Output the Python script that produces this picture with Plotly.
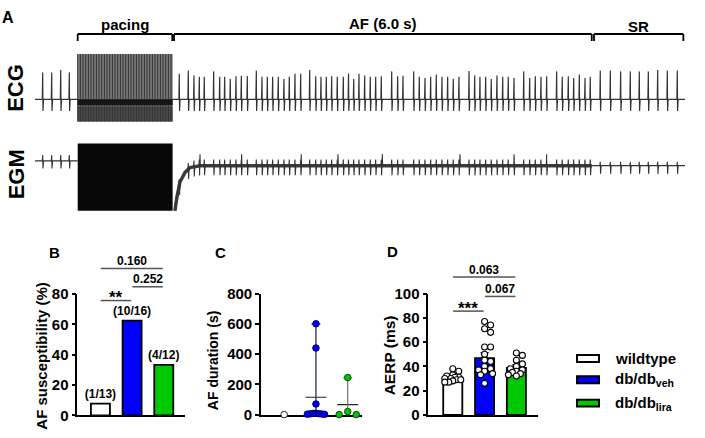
import numpy as np
import plotly.graph_objects as go

W, H = 705, 438
FONT = "Liberation Sans, Arial, Helvetica, sans-serif"

# ---------------- Panel A : protocol (s) ----------------
pacing_start, pacing_end = 0.616, 1.985
af_start, af_end = 2.005, 8.03
sr_end = 9.351
record_end = 9.375
pacing_rate_hz = 26

# ECG (mV): R-peak times and amplitudes
ecg_pre_t = [0.111, 0.241, 0.371, 0.495]
ecg_pre_r = [0.93, 0.93, 1.02, 0.93]
ecg_af_t = [2.081, 2.211, 2.293, 2.370, 2.442, 2.577, 2.664, 2.736, 2.817, 2.899,
            2.976, 3.062, 3.192, 3.274, 3.351, 3.428, 3.509, 3.591, 3.668, 3.750,
            3.832, 3.962, 4.049, 4.125, 4.202, 4.279, 4.360, 4.447, 4.522, 4.597,
            4.673, 4.755, 4.836, 4.914, 4.995, 5.145, 5.231, 5.308, 5.462, 5.543,
            5.625, 5.707, 5.788, 5.870, 5.952, 6.033, 6.115, 6.260, 6.342, 6.418,
            6.500, 6.581, 6.663, 6.746, 6.826, 6.909, 7.049, 7.135, 7.216, 7.298,
            7.380, 7.524, 7.605, 7.692, 7.770, 7.851, 7.933, 8.009]
ecg_af_r = [0.89, 1.00, 0.83, 0.78, 0.78, 0.97, 0.78, 0.78, 0.71, 0.80,
            0.82, 0.81, 1.00, 0.78, 0.78, 0.78, 0.78, 0.71, 0.78, 0.89,
            0.89, 1.02, 0.80, 0.78, 0.78, 0.80, 0.78, 0.78, 0.90, 0.71,
            0.89, 0.83, 0.78, 0.78, 0.80, 0.97, 0.80, 0.82, 0.97, 0.78,
            0.74, 0.78, 0.86, 0.78, 0.78, 0.71, 0.78, 0.98, 0.83, 0.78,
            0.78, 0.71, 0.83, 0.78, 0.78, 0.74, 0.97, 0.74, 0.80, 0.78,
            0.80, 0.97, 0.78, 0.80, 0.74, 0.86, 0.74, 0.78]
ecg_sr_t = [8.153, 8.298, 8.447, 8.586, 8.716, 8.846, 8.981, 9.120, 9.264]
ecg_sr_r = [1.00, 1.00, 0.97, 0.97, 0.97, 0.97, 1.02, 1.00, 1.00]
ecg_s_depth = -0.40
ecg_pacing_top, ecg_pacing_bottom = 1.57, -0.77

# EGM (mV)
egm_pre_baseline = 0.5
egm_pacing_top, egm_pacing_bottom = 2.3, -4.7
egm_recovery_t = [2.019, 2.044, 2.091, 2.164, 2.236, 2.380]
egm_recovery_v = [-4.7, -3.4, -1.7, -0.7, -0.2, 0.0]
egm_v_up, egm_v_down = 0.65, -1.0
egm_sr_up, egm_sr_down = 0.40, -0.85
egm_pre_up, egm_pre_down = 0.60, -0.80
egm_atrial_t = [2.38, 2.98, 3.84, 4.37, 5.01, 6.13, 6.91, 7.38]
egm_atrial_v = 1.2

# ---------------- Panels B-D ----------------
groups = ["wildtype", "db/db<sub>veh</sub>", "db/db<sub>lira</sub>"]
group_colors = ["#FFFFFF", "#0000FF", "#00C800"]
group_edge = ["#222222", "#00005A", "#004A00"]

af_n = [1, 10, 4]
af_total = [13, 16, 12]
b_compare = [(0, 1, "**", 75.8), (1, 2, "0.252", 84.9), (0, 2, "0.160", 97.0)]

af_dur = [[0],
          [600, 440, 70, 9, 8, 6, 5, 4, 3, 2],
          [245, 20, 0, 0]]

aerp_mean = [30.9, 46.7, 38.8]
aerp_sem = [1.2, 4.6, 2.6]
aerp = [[38, 36, 33, 32, 31, 31, 30, 30, 29, 29, 28, 27, 27],
        [77, 74, 71, 68, 56, 56, 50, 45, 44, 40, 38, 37, 36, 34, 33, 26],
        [51, 49, 45, 42, 40, 38, 37, 36, 35, 34, 33, 32]]
d_compare = [(0, 1, "***", 85.5), (1, 2, "0.067", 97.6), (0, 2, "0.063", 113.5)]

# ---------------- geometry (pixels) ----------------
def PX(x):
    return x / W


def PY(y):
    return 1 - y / H


A_X = (35, 685)
ECG_Y = (124, 43)      # bottom, top px
ECG_R = (-1.0, 1.7)
EGM_Y = (213, 138)
EGM_R = (-5.0, 2.5)

PANELS = {
    "B": dict(x=(77.3, 185.0), xr=(-0.73, 2.67), y=(422.7, 296.7), yr=(0, 80)),
    "C": dict(x=(261.0, 362.0), xr=(-0.73, 2.45), y=(422.0, 296.0), yr=(0, 800)),
    "D": dict(x=(428.3, 538.0), xr=(-0.77, 2.68), y=(422.3, 296.0), yr=(0, 100)),
}


def vx(p, v):
    P = PANELS[p]
    return P["x"][0] + (v - P["xr"][0]) / (P["xr"][1] - P["xr"][0]) * (P["x"][1] - P["x"][0])


def vy(p, v):
    P = PANELS[p]
    return P["y"][0] - (v - P["yr"][0]) / (P["yr"][1] - P["yr"][0]) * (P["y"][0] - P["y"][1])


def ax_x(t):
    return A_X[0] + t / record_end * (A_X[1] - A_X[0])


fig = go.Figure()

# ---------------- ECG trace ----------------
ex, ey = [0.0], [0.0]
for t, r in zip(ecg_pre_t + ecg_af_t + ecg_sr_t, ecg_pre_r + ecg_af_r + ecg_sr_r):
    ex += [t - 0.006, t, t + 0.004, t + 0.012]
    ey += [0.0, r, ecg_s_depth, 0.0]
ex.append(record_end)
ey.append(0.0)
fig.add_trace(go.Scatter(x=ex, y=ey, mode="lines", line=dict(color="#333333", width=1.2),
                         xaxis="x", yaxis="y", hoverinfo="skip"))

# ECG pacing block
ps, pe = pacing_start, pacing_end
fig.add_trace(go.Scatter(x=[ps, pe, pe, ps, ps],
                         y=[ecg_pacing_top, ecg_pacing_top, ecg_pacing_bottom, ecg_pacing_bottom, ecg_pacing_top],
                         mode="lines", fill="toself", fillcolor="#7a7a7a", line=dict(width=0),
                         xaxis="x", yaxis="y", hoverinfo="skip"))
fig.add_trace(go.Scatter(x=[ps, pe, pe, ps, ps],
                         y=[-0.25, -0.25, ecg_pacing_bottom, ecg_pacing_bottom, -0.25],
                         mode="lines", fill="toself", fillcolor="#4a4a4a", line=dict(width=0),
                         xaxis="x", yaxis="y", hoverinfo="skip"))
stim = np.arange(ps, pe, 1.0 / pacing_rate_hz)
sx, sy = [], []
for t in stim:
    sx += [t, t, None]
    sy += [ecg_pacing_top, ecg_pacing_bottom, None]
fig.add_trace(go.Scatter(x=sx, y=sy, mode="lines", line=dict(color="#333333", width=1),
                         xaxis="x", yaxis="y", hoverinfo="skip"))
fig.add_trace(go.Scatter(x=[ps, pe], y=[-0.1, -0.1], mode="lines", line=dict(color="#151515", width=6),
                         xaxis="x", yaxis="y", hoverinfo="skip"))

# ---------------- EGM trace ----------------
def egm_base(t):
    return float(np.interp(t, egm_recovery_t, egm_recovery_v))


gx, gy = [0.0], [egm_pre_baseline]
for t in ecg_pre_t:
    b = egm_pre_baseline
    gx += [t - 0.006, t, t + 0.004, t + 0.012]
    gy += [b, b + egm_pre_up, b + egm_pre_down, b]
gx += [pacing_start, None]
gy += [egm_pre_baseline, None]

events = [(t, "r") for t in egm_recovery_t] + [(t, "v") for t in ecg_af_t] + \
         [(t, "a") for t in egm_atrial_t] + [(t, "s") for t in ecg_sr_t]
events.sort()
for t, kind in events:
    b = egm_base(t)
    if kind == "r":
        gx.append(t); gy.append(b)
    elif kind == "v":
        gx += [t - 0.006, t, t + 0.004, t + 0.012]
        gy += [b, b + egm_v_up, b + egm_v_down, b]
    elif kind == "a":
        gx += [t - 0.004, t, t + 0.004]
        gy += [b, b + egm_atrial_v, b]
    else:
        gx += [t - 0.006, t, t + 0.004, t + 0.012]
        gy += [b, b + egm_sr_up, b + egm_sr_down, b]
gx.append(record_end)
gy.append(0.0)

# fibrillatory band
fig.add_trace(go.Scatter(x=egm_recovery_t + [af_end], y=egm_recovery_v + [0.0], mode="lines",
                         line=dict(color="#404040", width=3.5), xaxis="x", yaxis="y2", hoverinfo="skip"))
fig.add_trace(go.Scatter(x=gx, y=gy, mode="lines", line=dict(color="#333333", width=1.1),
                         xaxis="x", yaxis="y2", hoverinfo="skip"))
fig.add_trace(go.Scatter(x=[ps, pe, pe, ps, ps],
                         y=[egm_pacing_top, egm_pacing_top, egm_pacing_bottom, egm_pacing_bottom, egm_pacing_top],
                         mode="lines", fill="toself", fillcolor="#080808", line=dict(width=0),
                         xaxis="x", yaxis="y2", hoverinfo="skip"))

# ---------------- Panel B ----------------
af_pct = [100.0 * n / t for n, t in zip(af_n, af_total)]
fig.add_trace(go.Bar(x=[0, 1, 2], y=af_pct, width=0.6,
                     marker=dict(color=group_colors, line=dict(color="black", width=1.8)),
                     text=[f"<b>({n}/{t})</b>" for n, t in zip(af_n, af_total)],
                     textposition="outside", cliponaxis=False, constraintext="none",
                     textfont=dict(family=FONT, size=12, color="black"),
                     xaxis="x2", yaxis="y3", hoverinfo="skip"))

# ---------------- Panel C ----------------
def cluster_offsets(vals, ppv, d, hw):
    order = sorted(range(len(vals)), key=lambda i: -vals[i])
    offs = [0.0] * len(vals)
    clusters, cur = [], [order[0]]
    for a, b in zip(order[:-1], order[1:]):
        if (vals[a] - vals[b]) * ppv < d:
            cur.append(b)
        else:
            clusters.append(cur); cur = [b]
    clusters.append(cur)
    for cl in clusters:
        if len(cl) > 1:
            pos = sorted(np.linspace(-hw, hw, len(cl)), key=lambda p: (abs(p), p))
            for i, p in zip(cl, pos):
                offs[i] = p
    return offs


ppv_c = (PANELS["C"]["y"][0] - PANELS["C"]["y"][1]) / 800.0
for gi, vals in enumerate(af_dur):
    offs = cluster_offsets(vals, ppv_c, 5.0, 0.27)
    if len(vals) > 1:
        m = float(np.mean(vals))
        fig.add_trace(go.Scatter(x=[gi - 0.33, gi + 0.33], y=[m, m], mode="lines",
                                 line=dict(color="#222222", width=1.2), cliponaxis=False,
                                 xaxis="x3", yaxis="y4", hoverinfo="skip"))
        lc = "#1c1c3c" if gi == 1 else "#707070"
        fig.add_trace(go.Scatter(x=[gi, gi, None, gi - 0.14, gi + 0.14],
                                 y=[min(vals), max(vals), None, max(vals), max(vals)], mode="lines",
                                 line=dict(color=lc, width=1.2), cliponaxis=False,
                                 xaxis="x3", yaxis="y4", hoverinfo="skip"))
    fig.add_trace(go.Scatter(x=[gi + o for o in offs], y=vals, mode="markers", cliponaxis=False,
                             marker=dict(size=6.5, color=group_colors[gi],
                                         line=dict(color=group_edge[gi], width=1)),
                             xaxis="x3", yaxis="y4", hoverinfo="skip"))

# ---------------- Panel D ----------------
def beeswarm(vals, ppv, ppc, d, hw):
    order = sorted(range(len(vals)), key=lambda i: -vals[i])
    placed, offs = [], [0.0] * len(vals)
    step = d / 3.0
    nmax = int(hw / step)
    cands = [0.0]
    for k in range(1, nmax + 1):
        cands += [k * step, -k * step]
    for i in order:
        y = vals[i] * ppv
        best, bestd = 0.0, -1.0
        for x in cands:
            md = min([((x - a) ** 2 + (y - b) ** 2) ** 0.5 for a, b in placed] + [1e9])
            if md >= d:
                best = x
                break
            if md > bestd + 0.3:
                best, bestd = x, md
        placed.append((best, y))
        offs[i] = best / ppc
    return offs


fig.add_trace(go.Bar(x=[0, 1, 2], y=aerp_mean, width=0.6,
                     marker=dict(color=group_colors, line=dict(color="black", width=1.8)),
                     error_y=dict(type="data", array=aerp_sem, symmetric=False, arrayminus=[0, 0, 0],
                                  color="black", thickness=1.5, width=4),
                     xaxis="x4", yaxis="y5", hoverinfo="skip"))
ppv_d = (PANELS["D"]["y"][0] - PANELS["D"]["y"][1]) / 100.0
ppc_d = (PANELS["D"]["x"][1] - PANELS["D"]["x"][0]) / (PANELS["D"]["xr"][1] - PANELS["D"]["xr"][0])
for gi, vals in enumerate(aerp):
    offs = beeswarm(vals, ppv_d, ppc_d, 6.0, 9.0)
    fig.add_trace(go.Scatter(x=[gi + o for o in offs], y=vals, mode="markers", cliponaxis=False,
                             marker=dict(size=6, color="white", line=dict(color="black", width=1.1)),
                             xaxis="x4", yaxis="y5", hoverinfo="skip"))

# ---------------- axes ----------------
hidden = dict(visible=False, showgrid=False, zeroline=False, fixedrange=True)
layout = dict(
    width=W, height=H, margin=dict(l=0, r=0, t=0, b=0),
    paper_bgcolor="white", plot_bgcolor="white", showlegend=False,
    font=dict(family=FONT, color="black"),
    xaxis=dict(domain=[PX(A_X[0]), PX(A_X[1])], range=[0, record_end], anchor="y", **hidden),
    yaxis=dict(domain=[PY(ECG_Y[0]), PY(ECG_Y[1])], range=list(ECG_R), anchor="x", **hidden),
    yaxis2=dict(domain=[PY(EGM_Y[0]), PY(EGM_Y[1])], range=list(EGM_R), anchor="x", **hidden),
)
axis_names = {"B": ("xaxis2", "yaxis3", "x2", "y3", [0, 20, 40, 60, 80]),
              "C": ("xaxis3", "yaxis4", "x3", "y4", [0, 200, 400, 600, 800]),
              "D": ("xaxis4", "yaxis5", "x4", "y5", [0, 20, 40, 60, 80, 100])}
for p, (xa, ya, xr, yr, tv) in axis_names.items():
    P = PANELS[p]
    layout[xa] = dict(domain=[PX(P["x"][0]), PX(P["x"][1])], range=list(P["xr"]), anchor=yr,
                      showline=True, linecolor="black", linewidth=1.6, ticks="", showticklabels=False,
                      showgrid=False, zeroline=False, layer="below traces")
    layout[ya] = dict(domain=[PY(P["y"][0]), PY(P["y"][1])], range=list(P["yr"]), anchor=xr,
                      showline=True, linecolor="black", linewidth=1.6, ticks="outside", ticklen=4,
                      tickwidth=1.6, tickcolor="black", tickvals=tv, showgrid=False, zeroline=False,
                      tickfont=dict(family=FONT, size=15, color="black", weight="bold"))
fig.update_layout(**layout)

shapes, annos = [], []


def text(x, y, s, size, angle=0, xanchor="center", yanchor="middle"):
    annos.append(dict(x=PX(x), y=PY(y), xref="paper", yref="paper", text=s, showarrow=False,
                      textangle=angle, xanchor=xanchor, yanchor=yanchor,
                      font=dict(family=FONT, size=size, color="black")))


def line(x0, y0, x1, y1, color="black", width=1.8):
    shapes.append(dict(type="line", xref="paper", yref="paper", x0=PX(x0), y0=PY(y0), x1=PX(x1), y1=PY(y1),
                       line=dict(color=color, width=width)))


# Panel A brackets and labels
segments = [(pacing_start, pacing_end - 0.005, "pacing", 15.7),
            (af_start, af_end, f"AF ({af_end - af_start:.1f} s)", 15.0),
            (af_end + 0.033, sr_end, "SR", 18.3)]
for t0, t1, lab, ty in segments:
    x0, x1 = ax_x(t0), ax_x(t1)
    line(x0, 33.3, x0, 26)
    line(x0, 26, x1, 26)
    line(x1, 26, x1, 33.3)
    text((x0 + x1) / 2, ty, f"<b>{lab}</b>", 15)
text(8, 8.5, "<b>A</b>", 16)
text(16, 82, "<b>ECG</b>", 22, angle=-90)
text(16, 172, "<b>EGM</b>", 22, angle=-90)

# Panel letters / titles
text(54, 253, "<b>B</b>", 15)
text(220, 253, "<b>C</b>", 15)
text(392, 252, "<b>D</b>", 15)
text(41.7, 361, "<b>AF susceptibility (%)</b>", 15, angle=-90)
text(213.3, 365, "<b>AF duration (s)</b>", 14, angle=-90)
text(389.3, 360, "<b>AERP (ms)</b>", 15.5, angle=-90)

# comparisons
for p, comps in (("B", b_compare), ("D", d_compare)):
    for i, j, lab, lev in comps:
        x0, x1 = vx(p, i + 0.01), vx(p, j - 0.03)
        yy = vy(p, lev)
        line(x0, yy, x1, yy, color="#555555", width=1.5)
        if "*" in lab:
            text((x0 + x1) / 2, yy - 3.0, f"<b>{lab}</b>", 17)
        else:
            text((x0 + x1) / 2, yy - 7.8, f"<b>{lab}</b>", 12)

# legend
leg_y = [363.6, 385.8, 410.0]
for gi, (g, c) in enumerate(zip(groups, group_colors)):
    yc = leg_y[gi]
    shapes.append(dict(type="rect", xref="paper", yref="paper", x0=PX(577), x1=PX(599),
                       y0=PY(yc + 3.6), y1=PY(yc - 3.6), fillcolor=c, line=dict(color="black", width=2)))
    text(612.5, yc, f"<b>{g}</b>", 15, xanchor="left")

fig.update_layout(shapes=shapes, annotations=annos)
fig.write_html("out.html", config={"displayModeBar": False},
               post_script="document.body.style.margin='0';document.body.style.overflow='hidden';")
